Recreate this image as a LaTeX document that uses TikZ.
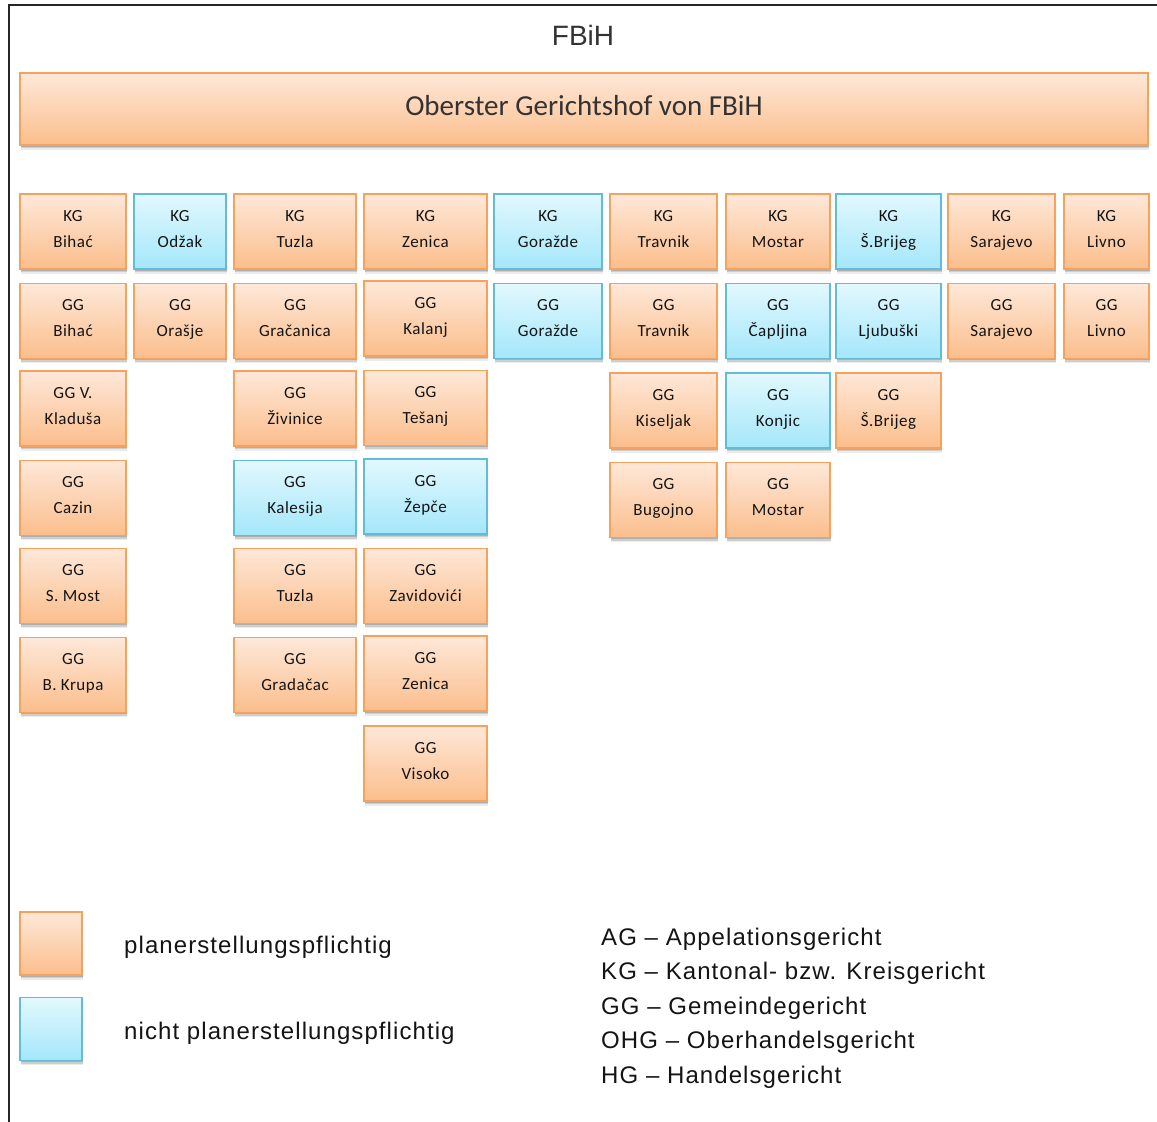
\documentclass[tikz,border=0pt]{standalone}
\usepackage{fontspec}
\setmainfont{Carlito}
\newfontfamily\boxfont[LetterSpace=3]{Carlito}
\newfontfamily\legfont[LetterSpace=4.5]{Liberation Sans}
\newfontfamily\titlefont{Liberation Sans}
\usetikzlibrary{shadows}
\definecolor{orTop}{HTML}{FEE8D9}
\definecolor{orBot}{HTML}{FBBE8C}
\definecolor{orBorder}{HTML}{F6A25E}
\definecolor{blTop}{HTML}{E2F8FE}
\definecolor{blBot}{HTML}{A4E7FA}
\definecolor{blBorder}{HTML}{62BCD6}
\definecolor{txt}{HTML}{141414}
\newcommand{\ctext}[2]{#1\\#2\rule[-6pt]{0pt}{0pt}}
\tikzset{
  court/.style={rectangle, inner sep=0pt, align=center, text=txt,
    font=\boxfont\fontsize{17}{26}\selectfont,
    minimum height=75pt, line width=1.3pt,
    drop shadow={shadow xshift=1pt, shadow yshift=-4.5pt, opacity=0.08, fill=black},
    drop shadow={shadow xshift=0.8pt, shadow yshift=-3pt, opacity=0.12, fill=black},
    drop shadow={shadow xshift=0.5pt, shadow yshift=-1.8pt, opacity=0.15, fill=black}},
  ob/.style={court, draw=orBorder, top color=orTop, bottom color=orBot},
  bb/.style={court, draw=blBorder, top color=blTop, bottom color=blBot},
  cA/.style={minimum width=106pt},
  cB/.style={minimum width=92pt},
  cC/.style={minimum width=122pt},
  cD/.style={minimum width=123pt},
  cE/.style={minimum width=108pt},
  cF/.style={minimum width=107pt},
  cG/.style={minimum width=104pt},
  cH/.style={minimum width=105pt},
  cI/.style={minimum width=107pt},
  cJ/.style={minimum width=85pt},
  legbox/.style={minimum width=62pt, minimum height=63pt},
  legtext/.style={inner sep=0pt, anchor=base west, text=txt, font=\legfont\fontsize{24}{28}\selectfont},
}
\begin{document}
\begin{tikzpicture}[x=1pt, y=-1pt]
\useasboundingbox (0,0) rectangle (1157,1122);
\fill[white] (0,0) rectangle (1157,1122);
% frame
\draw[line width=2pt, color=black!85] (1157,5) -- (9,5) -- (9,1122);
% title
\node[inner sep=0pt, anchor=base, text=black!80, font=\titlefont\fontsize{28}{32}\selectfont] (fbih) at (583,45) {FBiH};
\node[ob, minimum width=1128pt, minimum height=72pt, font=\fontsize{29}{32}\selectfont,
      text height=20pt, text depth=7pt, text=black!80] (ogh) at (584,109) {Oberster Gerichtshof von FBiH};
% row 1
\node[ob,cA] (kg-bihac)    at (73,231.5)    {\ctext{KG}{Bihać}};
\node[bb,cB] (kg-odzak)    at (180,231.5)   {\ctext{KG}{Odžak}};
\node[ob,cC] (kg-tuzla)    at (295,231.5)   {\ctext{KG}{Tuzla}};
\node[ob,cD] (kg-zenica)   at (425.5,231.5) {\ctext{KG}{Zenica}};
\node[bb,cE] (kg-gorazde)  at (548,231.5)   {\ctext{KG}{Goražde}};
\node[ob,cF] (kg-travnik)  at (663.5,231.5) {\ctext{KG}{Travnik}};
\node[ob,cG] (kg-mostar)   at (778,231.5)   {\ctext{KG}{Mostar}};
\node[bb,cH] (kg-sbrijeg)  at (888.5,231.5) {\ctext{KG}{Š.Brijeg}};
\node[ob,cI] (kg-sarajevo) at (1001.5,231.5){\ctext{KG}{Sarajevo}};
\node[ob,cJ] (kg-livno)    at (1106.5,231.5){\ctext{KG}{Livno}};
% row 2
\node[ob,cA] (gg-bihac)    at (73,321)      {\ctext{GG}{Bihać}};
\node[ob,cB] (gg-orasje)   at (180,321)     {\ctext{GG}{Orašje}};
\node[ob,cC] (gg-gracanica)at (295,321)     {\ctext{GG}{Gračanica}};
\node[ob,cD] (gg-kalanj)   at (425.5,318.5) {\ctext{GG}{Kalanj}};
\node[bb,cE] (gg-gorazde)  at (548,321)     {\ctext{GG}{Goražde}};
\node[ob,cF] (gg-travnik)  at (663.5,321)   {\ctext{GG}{Travnik}};
\node[bb,cG] (gg-capljina) at (778,321)     {\ctext{GG}{Čapljina}};
\node[bb,cH] (gg-ljubuski) at (888.5,321)   {\ctext{GG}{Ljubuški}};
\node[ob,cI] (gg-sarajevo) at (1001.5,321)  {\ctext{GG}{Sarajevo}};
\node[ob,cJ] (gg-livno)    at (1106.5,321)  {\ctext{GG}{Livno}};
% row 3
\node[ob,cA] (gg-kladusa)  at (73,408.5)    {\ctext{GG V.}{Kladuša}};
\node[ob,cC] (gg-zivinice) at (295,408.5)   {\ctext{GG}{Živinice}};
\node[ob,cD] (gg-tesanj)   at (425.5,408)   {\ctext{GG}{Tešanj}};
\node[ob,cF] (gg-kiseljak) at (663.5,410.5) {\ctext{GG}{Kiseljak}};
\node[bb,cG] (gg-konjic)   at (778,410.5)   {\ctext{GG}{Konjic}};
\node[ob,cH] (gg-sbrijeg)  at (888.5,410.5) {\ctext{GG}{Š.Brijeg}};
% row 4
\node[ob,cA] (gg-cazin)    at (73,498)      {\ctext{GG}{Cazin}};
\node[bb,cC] (gg-kalesija) at (295,498)     {\ctext{GG}{Kalesija}};
\node[bb,cD] (gg-zepce)    at (425.5,496.5) {\ctext{GG}{Žepče}};
\node[ob,cF] (gg-bugojno)  at (663.5,500)   {\ctext{GG}{Bugojno}};
\node[ob,cG] (gg-mostar)   at (778,500)     {\ctext{GG}{Mostar}};
% row 5
\node[ob,cA] (gg-smost)    at (73,586)      {\ctext{GG}{S. Most}};
\node[ob,cC] (gg-tuzla)    at (295,586)     {\ctext{GG}{Tuzla}};
\node[ob,cD] (gg-zavidovici) at (425.5,586) {\ctext{GG}{Zavidovići}};
% row 6
\node[ob,cA] (gg-bkrupa)   at (73,675)      {\ctext{GG}{B. Krupa}};
\node[ob,cC] (gg-gradacac) at (295,675)     {\ctext{GG}{Gradačac}};
\node[ob,cD] (gg-zenica)   at (425.5,673.5) {\ctext{GG}{Zenica}};
% row 7
\node[ob,cD] (gg-visoko)   at (425.5,763.5) {\ctext{GG}{Visoko}};
% legend
\node[ob,legbox] (leg-o) at (51,943.5) {};
\node[bb,legbox] (leg-b) at (51,1029) {};
\node[legtext] (leg-o-text) at (124,953)  {planerstellungspflichtig};
\node[legtext] (leg-b-text) at (124,1039) {nicht planerstellungspflichtig};
\node[legtext] (abbr-ag)  at (601,945)    {AG – Appelationsgericht};
\node[legtext] (abbr-kg)  at (601,979.5)  {KG – Kantonal- bzw. Kreisgericht};
\node[legtext] (abbr-gg)  at (601,1014)   {GG – Gemeindegericht};
\node[legtext] (abbr-ohg) at (601,1048.5) {OHG – Oberhandelsgericht};
\node[legtext] (abbr-hg)  at (601,1083)   {HG – Handelsgericht};
\end{tikzpicture}
\end{document}
